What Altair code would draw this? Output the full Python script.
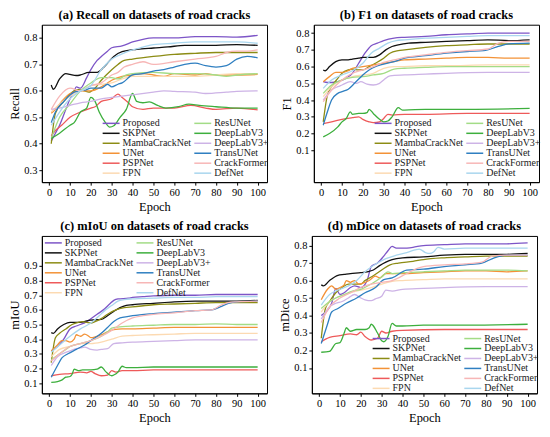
import altair as alt
import pandas as pd

MODELS = ["Proposed", "SKPNet", "MambaCrackNet", "UNet", "PSPNet", "FPN",
          "ResUNet", "DeepLabV3", "DeepLabV3+", "TransUNet", "CrackFormer", "DefNet"]
COLORS = ["#7D55C7", "#111111", "#8C8C14", "#F39237", "#EE5A5A", "#FCDAB2",
          "#A3DC86", "#3DAF3D", "#CDB3E6", "#2F7FC1", "#F7B6B6", "#A9D6EE"]
EPOCH_TICKS = list(range(0, 101, 10))

# (a) Recall : model -> (epochs, values)
RECALL = {
    "Proposed": ([1, 3, 5, 8, 10, 12, 13, 15, 18, 20, 23, 25, 28, 30, 35, 40, 45, 50, 60, 70, 80, 90, 100],
                 [0.41, 0.44, 0.47, 0.53, 0.57, 0.60, 0.615, 0.61, 0.65, 0.68, 0.715, 0.73, 0.75, 0.763, 0.77, 0.785, 0.795, 0.80, 0.80, 0.805, 0.805, 0.803, 0.81]),
    "SKPNet": ([1, 2, 5, 8, 10, 13, 15, 19, 23, 26, 28, 31, 35, 42, 50, 57, 65, 80, 90, 100],
               [0.622, 0.606, 0.645, 0.665, 0.662, 0.658, 0.66, 0.67, 0.67, 0.688, 0.705, 0.73, 0.748, 0.757, 0.762, 0.766, 0.772, 0.772, 0.775, 0.772]),
    "MambaCrackNet": ([1, 3, 7, 12, 14, 17, 19, 22, 25, 30, 33, 36, 40, 50, 60, 70, 80, 90, 100],
                      [0.40, 0.515, 0.56, 0.60, 0.605, 0.60, 0.595, 0.61, 0.64, 0.68, 0.70, 0.715, 0.72, 0.73, 0.738, 0.742, 0.745, 0.745, 0.745]),
    "UNet": ([1, 3, 6, 10, 15, 20, 25, 28, 30, 35, 40, 45, 50, 55, 60, 70, 75, 80, 90, 100],
             [0.515, 0.53, 0.56, 0.59, 0.60, 0.60, 0.615, 0.63, 0.64, 0.655, 0.66, 0.665, 0.66, 0.655, 0.665, 0.66, 0.665, 0.66, 0.66, 0.662]),
    "PSPNet": ([1, 3, 6, 10, 15, 20, 22, 25, 30, 33, 35, 38, 40, 45, 50, 60, 68, 75, 80, 90, 100],
               [0.43, 0.45, 0.47, 0.50, 0.52, 0.535, 0.54, 0.56, 0.57, 0.588, 0.575, 0.555, 0.54, 0.53, 0.535, 0.535, 0.545, 0.535, 0.53, 0.535, 0.528]),
    "FPN": ([1, 5, 10, 15, 20, 25, 30, 35, 40, 50, 60, 70, 80, 90, 100],
            [0.52, 0.55, 0.58, 0.60, 0.62, 0.625, 0.63, 0.645, 0.655, 0.655, 0.655, 0.655, 0.66, 0.665, 0.665]),
    "ResUNet": ([1, 5, 10, 15, 20, 25, 30, 33, 37, 40, 50, 60, 70, 80, 85, 90, 100],
                [0.42, 0.50, 0.55, 0.60, 0.63, 0.65, 0.65, 0.645, 0.66, 0.665, 0.67, 0.665, 0.665, 0.66, 0.655, 0.66, 0.665]),
    "DeepLabV3": ([1, 5, 10, 12, 15, 18, 20, 22, 24, 27, 29, 31, 34, 37, 40, 42, 45, 48, 52, 56, 62, 67, 72, 80, 90, 100],
                  [0.42, 0.44, 0.47, 0.48, 0.52, 0.535, 0.575, 0.56, 0.52, 0.48, 0.463, 0.468, 0.50, 0.53, 0.59, 0.56, 0.555, 0.558, 0.545, 0.535, 0.54, 0.55, 0.545, 0.54, 0.535, 0.535]),
    "DeepLabV3+": ([1, 5, 10, 15, 20, 25, 30, 35, 40, 50, 55, 60, 70, 75, 85, 90, 100],
                   [0.53, 0.535, 0.545, 0.555, 0.56, 0.57, 0.575, 0.58, 0.585, 0.595, 0.60, 0.598, 0.595, 0.59, 0.595, 0.598, 0.60]),
    "TransUNet": ([1, 3, 7, 12, 15, 18, 20, 25, 28, 30, 33, 35, 40, 45, 50, 55, 60, 65, 70, 75, 80, 85, 90, 95, 100],
                  [0.48, 0.52, 0.56, 0.595, 0.60, 0.605, 0.61, 0.61, 0.625, 0.615, 0.625, 0.63, 0.66, 0.665, 0.675, 0.68, 0.69, 0.70, 0.705, 0.695, 0.69, 0.695, 0.72, 0.73, 0.725]),
    "CrackFormer": ([1, 5, 10, 15, 20, 25, 30, 33, 36, 40, 45, 50, 60, 70, 80, 85, 90, 95, 100],
                    [0.53, 0.58, 0.61, 0.60, 0.62, 0.63, 0.66, 0.67, 0.69, 0.70, 0.71, 0.70, 0.71, 0.72, 0.73, 0.745, 0.75, 0.75, 0.755]),
    "DefNet": ([1, 5, 10, 15, 20, 25, 30, 35, 40, 45, 50, 60, 70, 80, 90, 100],
               [0.47, 0.52, 0.57, 0.60, 0.62, 0.68, 0.72, 0.74, 0.755, 0.765, 0.775, 0.78, 0.785, 0.785, 0.785, 0.78]),
}

# (b) F1
F1 = {
    "Proposed": ([1, 3, 5, 8, 12, 15, 18, 21, 24, 27, 30, 35, 40, 50, 60, 70, 80, 90, 100],
                 [0.51, 0.505, 0.505, 0.51, 0.53, 0.56, 0.62, 0.68, 0.725, 0.74, 0.755, 0.77, 0.775, 0.78, 0.79, 0.795, 0.80, 0.80, 0.80]),
    "SKPNet": ([1, 2, 4, 7, 10, 13, 15, 18, 20, 25, 28, 31, 34, 37, 42, 50, 60, 70, 80, 90, 100],
               [0.58, 0.575, 0.60, 0.63, 0.64, 0.64, 0.645, 0.65, 0.655, 0.655, 0.67, 0.70, 0.72, 0.73, 0.74, 0.745, 0.75, 0.755, 0.76, 0.755, 0.76]),
    "MambaCrackNet": ([1, 3, 5, 8, 10, 13, 15, 18, 20, 23, 26, 30, 33, 37, 40, 50, 60, 70, 80, 90, 100],
                      [0.27, 0.43, 0.48, 0.53, 0.56, 0.58, 0.585, 0.58, 0.58, 0.60, 0.62, 0.65, 0.68, 0.695, 0.70, 0.715, 0.725, 0.73, 0.735, 0.735, 0.735]),
    "UNet": ([1, 4, 7, 10, 13, 15, 20, 25, 30, 35, 40, 50, 60, 70, 80, 90, 100],
             [0.51, 0.54, 0.565, 0.565, 0.575, 0.59, 0.60, 0.61, 0.62, 0.63, 0.64, 0.645, 0.65, 0.655, 0.655, 0.65, 0.65]),
    "PSPNet": ([1, 5, 10, 15, 18, 20, 23, 25, 28, 30, 32, 34, 40, 50, 70, 100],
               [0.26, 0.27, 0.285, 0.295, 0.30, 0.285, 0.27, 0.265, 0.27, 0.29, 0.315, 0.31, 0.315, 0.315, 0.32, 0.32]),
    "FPN": ([1, 5, 10, 15, 20, 25, 30, 35, 40, 50, 60, 80, 100],
            [0.42, 0.48, 0.52, 0.54, 0.55, 0.56, 0.59, 0.60, 0.60, 0.605, 0.605, 0.61, 0.61]),
    "ResUNet": ([1, 5, 10, 15, 20, 25, 30, 35, 40, 50, 60, 80, 100],
                [0.44, 0.49, 0.52, 0.535, 0.54, 0.55, 0.56, 0.585, 0.59, 0.595, 0.60, 0.60, 0.60]),
    "DeepLabV3": ([1, 4, 8, 10, 12, 14, 15, 18, 20, 22, 23, 25, 28, 30, 32, 34, 37, 39, 40, 50, 70, 100],
                  [0.18, 0.20, 0.24, 0.27, 0.29, 0.33, 0.315, 0.32, 0.32, 0.325, 0.345, 0.32, 0.285, 0.27, 0.275, 0.30, 0.355, 0.34, 0.34, 0.345, 0.345, 0.35]),
    "DeepLabV3+": ([1, 5, 8, 10, 14, 17, 19, 22, 25, 28, 30, 33, 40, 50, 60, 80, 100],
                   [0.40, 0.46, 0.48, 0.49, 0.51, 0.50, 0.51, 0.495, 0.49, 0.50, 0.52, 0.545, 0.55, 0.555, 0.56, 0.565, 0.565]),
    "TransUNet": ([1, 3, 5, 8, 10, 13, 16, 20, 23, 26, 30, 35, 40, 50, 60, 70, 78, 85, 90, 100],
                  [0.25, 0.33, 0.40, 0.44, 0.45, 0.465, 0.50, 0.55, 0.58, 0.60, 0.615, 0.63, 0.65, 0.665, 0.68, 0.69, 0.695, 0.72, 0.735, 0.74]),
    "CrackFormer": ([1, 5, 10, 15, 20, 25, 30, 35, 40, 50, 60, 70, 80, 85, 90, 100],
                    [0.39, 0.46, 0.52, 0.56, 0.58, 0.60, 0.625, 0.64, 0.655, 0.67, 0.685, 0.695, 0.705, 0.74, 0.75, 0.75]),
    "DefNet": ([1, 5, 10, 15, 20, 24, 28, 32, 36, 40, 50, 60, 70, 80, 90, 100],
               [0.47, 0.52, 0.55, 0.575, 0.62, 0.68, 0.71, 0.74, 0.755, 0.76, 0.77, 0.775, 0.78, 0.785, 0.785, 0.785]),
}

# (c) mIoU
MIOU = {
    "Proposed": ([1, 4, 7, 10, 13, 15, 18, 20, 23, 26, 29, 31, 33, 38, 40, 45, 50, 60, 70, 80, 90, 100],
                 [0.32, 0.35, 0.40, 0.47, 0.49, 0.50, 0.52, 0.54, 0.57, 0.60, 0.64, 0.665, 0.675, 0.68, 0.685, 0.69, 0.695, 0.70, 0.70, 0.705, 0.705, 0.705]),
    "SKPNet": ([1, 2, 4, 7, 10, 15, 18, 20, 25, 28, 31, 34, 37, 40, 50, 60, 70, 80, 90, 100],
               [0.445, 0.44, 0.47, 0.50, 0.515, 0.515, 0.525, 0.53, 0.535, 0.56, 0.59, 0.615, 0.63, 0.635, 0.645, 0.655, 0.66, 0.66, 0.66, 0.665]),
    "MambaCrackNet": ([1, 3, 5, 8, 11, 14, 16, 18, 20, 22, 25, 28, 32, 36, 40, 50, 60, 70, 80, 90, 100],
                      [0.24, 0.41, 0.44, 0.47, 0.50, 0.515, 0.52, 0.515, 0.51, 0.52, 0.54, 0.57, 0.60, 0.615, 0.62, 0.635, 0.64, 0.645, 0.65, 0.65, 0.65]),
    "UNet": ([1, 4, 6, 8, 10, 12, 13, 15, 17, 19, 20, 22, 25, 28, 31, 35, 40, 50, 60, 70, 80, 90, 100],
             [0.32, 0.36, 0.39, 0.39, 0.38, 0.40, 0.43, 0.42, 0.435, 0.42, 0.41, 0.415, 0.43, 0.45, 0.465, 0.47, 0.47, 0.475, 0.48, 0.48, 0.48, 0.48, 0.48]),
    "PSPNet": ([1, 5, 10, 15, 18, 20, 22, 25, 28, 30, 32, 35, 40, 50, 70, 100],
               [0.15, 0.16, 0.165, 0.175, 0.17, 0.18, 0.165, 0.15, 0.155, 0.185, 0.175, 0.185, 0.185, 0.19, 0.19, 0.19]),
    "FPN": ([1, 5, 10, 15, 20, 25, 30, 35, 40, 50, 60, 70, 80, 100],
            [0.28, 0.33, 0.35, 0.37, 0.37, 0.38, 0.40, 0.42, 0.425, 0.43, 0.435, 0.44, 0.44, 0.44]),
    "ResUNet": ([1, 5, 8, 10, 15, 20, 25, 28, 30, 35, 40, 50, 60, 70, 80, 90, 100],
                [0.26, 0.30, 0.33, 0.35, 0.37, 0.39, 0.42, 0.45, 0.475, 0.485, 0.49, 0.495, 0.50, 0.50, 0.505, 0.50, 0.50]),
    "DeepLabV3": ([1, 4, 6, 8, 10, 11, 12, 14, 16, 20, 23, 25, 27, 29, 30, 31, 33, 35, 37, 40, 50, 70, 100],
                  [0.105, 0.11, 0.12, 0.14, 0.145, 0.16, 0.195, 0.185, 0.19, 0.19, 0.195, 0.21, 0.18, 0.155, 0.15, 0.155, 0.175, 0.215, 0.205, 0.205, 0.21, 0.21, 0.21]),
    "DeepLabV3+": ([1, 4, 8, 10, 13, 15, 17, 20, 23, 25, 28, 31, 35, 40, 50, 60, 70, 80, 90, 100],
                   [0.22, 0.28, 0.31, 0.32, 0.335, 0.34, 0.345, 0.33, 0.325, 0.33, 0.335, 0.37, 0.375, 0.38, 0.385, 0.39, 0.395, 0.395, 0.395, 0.395]),
    "TransUNet": ([1, 4, 6, 9, 13, 17, 20, 25, 28, 31, 34, 38, 40, 50, 60, 70, 78, 82, 86, 90, 100],
                  [0.14, 0.22, 0.27, 0.30, 0.33, 0.36, 0.39, 0.44, 0.48, 0.52, 0.545, 0.555, 0.56, 0.575, 0.585, 0.595, 0.60, 0.62, 0.645, 0.655, 0.66]),
    "CrackFormer": ([1, 5, 10, 15, 20, 25, 30, 35, 40, 45, 50, 60, 70, 78, 82, 86, 90, 100],
                    [0.25, 0.30, 0.35, 0.37, 0.39, 0.42, 0.46, 0.51, 0.545, 0.56, 0.57, 0.58, 0.595, 0.60, 0.63, 0.65, 0.655, 0.66]),
    "DefNet": ([1, 5, 10, 15, 20, 24, 27, 30, 33, 36, 40, 50, 60, 70, 80, 90, 100],
               [0.31, 0.36, 0.42, 0.47, 0.51, 0.56, 0.60, 0.63, 0.66, 0.67, 0.675, 0.68, 0.685, 0.685, 0.69, 0.69, 0.69]),
}

# (d) mDice
MDICE = {
    "Proposed": ([1, 4, 6, 8, 10, 12, 15, 17, 20, 23, 25, 28, 31, 33, 35, 37, 40, 45, 50, 60, 70, 80, 90, 100],
                 [0.40, 0.43, 0.47, 0.555, 0.52, 0.53, 0.56, 0.57, 0.56, 0.60, 0.68, 0.70, 0.74, 0.77, 0.795, 0.785, 0.785, 0.79, 0.80, 0.805, 0.81, 0.81, 0.81, 0.815]),
    "SKPNet": ([1, 2, 5, 9, 12, 15, 20, 23, 26, 29, 32, 35, 40, 50, 60, 70, 80, 90, 100],
               [0.575, 0.57, 0.60, 0.63, 0.635, 0.64, 0.645, 0.65, 0.66, 0.685, 0.705, 0.72, 0.73, 0.735, 0.745, 0.75, 0.75, 0.75, 0.755]),
    "MambaCrackNet": ([1, 3, 5, 8, 11, 14, 17, 20, 22, 25, 30, 34, 38, 45, 50, 60, 70, 80, 90, 100],
                      [0.27, 0.44, 0.48, 0.53, 0.56, 0.58, 0.58, 0.58, 0.60, 0.62, 0.66, 0.69, 0.70, 0.71, 0.72, 0.73, 0.735, 0.74, 0.74, 0.74]),
    "UNet": ([1, 4, 6, 8, 10, 12, 13, 15, 17, 19, 21, 24, 27, 29, 32, 40, 50, 60, 70, 80, 90, 100],
             [0.49, 0.55, 0.57, 0.55, 0.56, 0.575, 0.60, 0.59, 0.60, 0.58, 0.585, 0.60, 0.625, 0.615, 0.64, 0.64, 0.645, 0.65, 0.655, 0.655, 0.65, 0.655]),
    "PSPNet": ([1, 5, 10, 15, 18, 20, 22, 25, 28, 30, 32, 35, 40, 60, 80, 100],
               [0.25, 0.275, 0.285, 0.295, 0.29, 0.305, 0.28, 0.26, 0.27, 0.31, 0.30, 0.31, 0.315, 0.32, 0.32, 0.32]),
    "FPN": ([1, 5, 10, 15, 20, 25, 30, 35, 40, 50, 60, 80, 100],
            [0.42, 0.48, 0.51, 0.53, 0.545, 0.56, 0.58, 0.595, 0.60, 0.605, 0.61, 0.61, 0.61]),
    "ResUNet": ([1, 5, 8, 12, 16, 20, 25, 30, 33, 35, 40, 50, 60, 70, 80, 90, 100],
                [0.44, 0.48, 0.50, 0.52, 0.54, 0.55, 0.58, 0.62, 0.65, 0.64, 0.645, 0.65, 0.655, 0.66, 0.66, 0.66, 0.655]),
    "DeepLabV3": ([1, 5, 8, 10, 12, 13, 15, 18, 22, 24, 25, 28, 30, 31, 33, 35, 37, 40, 50, 70, 100],
                  [0.19, 0.195, 0.24, 0.245, 0.30, 0.33, 0.31, 0.32, 0.32, 0.33, 0.35, 0.30, 0.255, 0.25, 0.28, 0.355, 0.34, 0.34, 0.345, 0.345, 0.35]),
    "DeepLabV3+": ([1, 5, 8, 11, 14, 17, 20, 22, 25, 27, 30, 32, 35, 40, 50, 60, 80, 100],
                   [0.38, 0.45, 0.47, 0.48, 0.50, 0.52, 0.50, 0.49, 0.485, 0.495, 0.51, 0.545, 0.54, 0.55, 0.555, 0.56, 0.565, 0.565]),
    "TransUNet": ([1, 4, 6, 9, 13, 18, 22, 27, 31, 35, 42, 50, 60, 70, 78, 84, 90, 100],
                  [0.24, 0.35, 0.42, 0.44, 0.47, 0.50, 0.53, 0.56, 0.605, 0.615, 0.66, 0.665, 0.68, 0.69, 0.70, 0.73, 0.745, 0.745]),
    "CrackFormer": ([1, 5, 10, 15, 20, 25, 30, 35, 42, 47, 50, 60, 70, 78, 83, 90, 100],
                    [0.36, 0.45, 0.50, 0.53, 0.56, 0.58, 0.59, 0.60, 0.64, 0.67, 0.68, 0.69, 0.695, 0.705, 0.74, 0.745, 0.745]),
    "DefNet": ([1, 5, 10, 15, 18, 22, 28, 32, 37, 42, 46, 48, 51, 53, 55, 57, 60, 70, 80, 90, 100],
               [0.46, 0.52, 0.55, 0.575, 0.60, 0.65, 0.70, 0.725, 0.745, 0.76, 0.775, 0.78, 0.76, 0.755, 0.765, 0.79, 0.78, 0.785, 0.785, 0.785, 0.785]),
}

FONT = "Liberation Serif"
W, H = 226, 158
LEG_W = 166


def panel(data, title, ytitle, ydomain, yticks, lx, ly):
    rows = []
    for model, (eps, vals) in data.items():
        for e, v in zip(eps, vals):
            rows.append({"model": model, "epoch": e, "value": v})
    df = pd.DataFrame(rows)
    return alt.Chart(df).mark_line(interpolate="monotone", strokeWidth=1.3, clip=True).encode(
        x=alt.X("epoch:Q",
                scale=alt.Scale(domain=[-3.5, 104.5], nice=False, zero=False),
                axis=alt.Axis(values=EPOCH_TICKS, title="Epoch")),
        y=alt.Y("value:Q",
                scale=alt.Scale(domain=ydomain, nice=False, zero=False),
                axis=alt.Axis(values=yticks, format=".1f", title=ytitle)),
        color=alt.Color("model:N",
                        scale=alt.Scale(domain=MODELS, range=COLORS),
                        legend=alt.Legend(orient="none", legendX=lx, legendY=ly, columns=2,
                                          title=None, symbolType="M-1,0L3.25,0", symbolSize=64,
                                          symbolStrokeWidth=1.5, labelOffset=11,
                                          labelFont=FONT, labelFontSize=10, labelColor="#222",
                                          rowPadding=-3.7, columnPadding=0, padding=0)),
        order=alt.Order("epoch:Q"),
    ).properties(width=W, height=H,
                 title=alt.TitleParams(title, font=FONT, fontSize=12.5, fontWeight="bold",
                                       color="black", offset=3))


pa = panel(RECALL, "(a) Recall on datasets of road cracks", "Recall",
           [0.255, 0.85], [0.3, 0.4, 0.5, 0.6, 0.7, 0.8], W - LEG_W, H - 64)
pb = panel(F1, "(b) F1 on datasets of road cracks", "F1",
           [-0.09, 0.85], [0.1, 0.2, 0.3, 0.4, 0.5, 0.6, 0.7, 0.8], W - LEG_W, H - 64)
pc = panel(MIOU, "(c) mIoU on datasets of road cracks", "mIoU",
           [0.03, 1.105], [0.1, 0.2, 0.3, 0.4, 0.5, 0.6, 0.7, 0.8, 0.9], 2, 2)
pd_ = panel(MDICE, "(d) mDice on datasets of road cracks", "mDice",
            [-0.045, 0.855], [0.1, 0.2, 0.3, 0.4, 0.5, 0.6, 0.7, 0.8], W - LEG_W, H - 60)

top = alt.hconcat(pa, pb, spacing=10).resolve_legend(color="independent")
bottom = alt.hconcat(pc, pd_, spacing=10).resolve_legend(color="independent")

chart = alt.vconcat(top, bottom, spacing=6).resolve_legend(color="independent").properties(
    padding=0
).configure_view(
    stroke="black", strokeWidth=1
).configure_axis(
    grid=False, domainColor="black", tickColor="black", tickSize=3,
    labelFont=FONT, labelFontSize=10.5, labelColor="black", labelPadding=2,
    titleFont=FONT, titleFontSize=12.5, titleFontWeight="normal", titleColor="black",
    titlePadding=3
).configure_axisY(
    titlePadding=2
)

chart.save("out.html", embed_options={"renderer": "svg", "actions": False})
